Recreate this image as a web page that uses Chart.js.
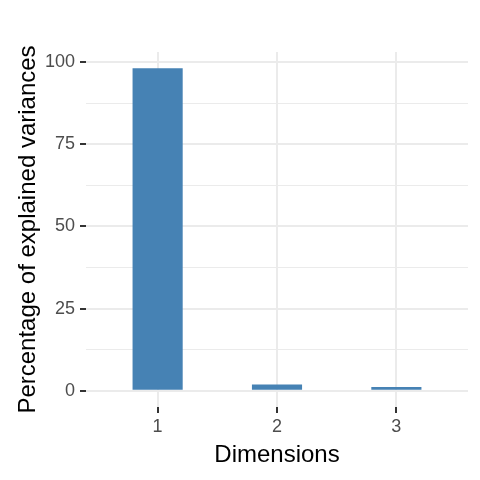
<!DOCTYPE html>
<html>
<head>
<meta charset="utf-8">
<script src="https://cdn.jsdelivr.net/npm/chart.js@4"></script>
<style>
  html, body { margin: 0; padding: 0; background: #fff; }
  #wrap { width: 480px; height: 480px; }
</style>
</head>
<body>
<div id="wrap"><canvas id="scree"></canvas></div>
<script>
// scree plot data
const dims = [1, 2, 3];
const variances = [98.1, 1.9, 1.2];
const yTicks = [0, 12.5, 25, 37.5, 50, 62.5, 75, 87.5, 100];
const xTicks = [1, 2, 3];

// ggplot style expansion: 5% of range on y, 0.6 units on discrete x
const yMax = Math.max(...variances);
const yLo = -0.05 * yMax, yHi = yMax * 1.05;

const isMajor = v => v % 25 === 0;

new Chart(document.getElementById("scree"), {
  type: 'bar',
  data: {
    datasets: [{
      label: "Percentage of explained variances",
      data: dims.map((d, i) => ({ x: d, y: variances[i] })),
      backgroundColor: "#4682B4",
      borderWidth: 0,
      categoryPercentage: 1,
      barPercentage: 0.42
    }]
  },
  options: {
    responsive: true,
    maintainAspectRatio: false,
    animation: false,
    layout: { padding: { top: 52, right: 12, left: 0, bottom: 0 } },
    plugins: { legend: { display: false }, tooltip: { enabled: false } },
    scales: {
      x: {
        type: 'linear',
        min: 0.4,
        max: 3.6,
        offset: false,
        afterBuildTicks: s => { s.ticks = xTicks.map(v => ({ value: v })); },
        afterFit: s => { s.height = 73; },
        border: { display: false },
        grid: { offset: false, color: "#ebebeb", lineWidth: 2, tickColor: "#333333", tickLength: 6, tickWidth: 2 },
        ticks: { color: "#4d4d4d", padding: 3, font: { family: "Liberation Sans", size: 18 } },
        title: { display: true, text: "Dimensions", color: "#000", padding: { top: 0, bottom: 10 },
                 font: { family: "Liberation Sans", size: 24 } }
      },
      y: {
        min: yLo,
        max: yHi,
        afterBuildTicks: s => { s.ticks = yTicks.map(v => ({ value: v })); },
        afterFit: s => { s.width = 86; },
        border: { display: false },
        grid: {
          color: "#ebebeb",
          lineWidth: c => isMajor(c.tick.value) ? 2 : 1,
          tickColor: c => isMajor(c.tick.value) ? "#333333" : "rgba(0,0,0,0)",
          tickLength: 6,
          tickWidth: 2
        },
        ticks: {
          color: "#4d4d4d", padding: 5, font: { family: "Liberation Sans", size: 18 },
          callback: v => isMajor(v) ? String(v) : ''
        },
        title: { display: true, text: "Percentage of explained variances", color: "#000",
                 padding: { top: 14, bottom: 0 }, font: { family: "Liberation Sans", size: 24 } }
      }
    }
  }
});
</script>
</body>
</html>
